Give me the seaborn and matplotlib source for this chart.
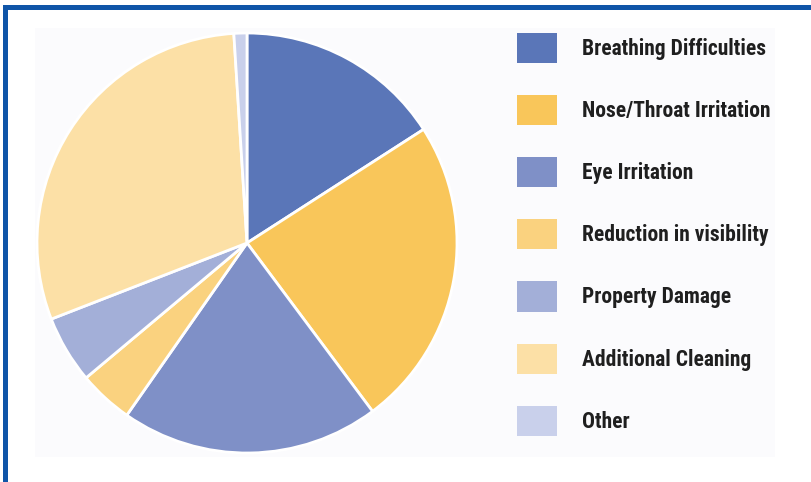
import matplotlib
matplotlib.use("Agg")
import matplotlib.pyplot as plt
import seaborn as sns
from matplotlib.patches import Rectangle

# данные круговой диаграммы
categories = ["Breathing Difficulties", "Nose/Throat Irritation", "Eye Irritation",
              "Reduction in visibility", "Property Damage", "Additional Cleaning", "Other"]
values = [15.9, 23.9, 19.9, 4.2, 5.2, 29.9, 1.0]
colors = ["#5a76b8", "#f9c65a", "#7f90c7", "#fad27f", "#a3afd8", "#fce0a6", "#c9d0eb"]

sns.set_style("white")
plt.rcParams['font.family'] = ['Roboto Condensed', 'DejaVu Sans']

W, H = 812, 482
fig = plt.figure(figsize=(W / 100, H / 100), dpi=100)

# светлая подложка и синяя рамка
fig.add_artist(Rectangle((35 / W, 1 - 457 / H), 740 / W, 429 / H, transform=fig.transFigure,
                         facecolor="#fbfbfd", edgecolor="none", zorder=0))
fig.add_artist(Rectangle((3 / W, 1 - 10 / H), 1 - 3 / W, 5 / H, transform=fig.transFigure,
                         facecolor="#0f55a8", edgecolor="none", zorder=5))
fig.add_artist(Rectangle((3 / W, 0), 5 / W, 1 - 5 / H, transform=fig.transFigure,
                         facecolor="#0f55a8", edgecolor="none", zorder=5))

cx, cy, r = 247, 243, 210
ax = fig.add_axes([(cx - r) / W, (H - cy - r) / H, 2 * r / W, 2 * r / H])
ax.patch.set_alpha(0)

wedges, _ = ax.pie(values, colors=sns.color_palette(colors), startangle=90, counterclock=False,
                   wedgeprops={'lw': 2, 'edgecolor': 'white'})
ax.set_xlim(-1, 1)
ax.set_ylim(-1, 1)
ax.set_aspect("equal")

fs = 15.5
leg = fig.legend(wedges, categories, loc="upper left", bbox_to_anchor=(517 / W, 1 - 33 / H),
                 frameon=False, prop={'weight': 'bold', 'size': fs, 'stretch': 'condensed'},
                 handlelength=1.86, handleheight=1.77, handletextpad=1.16,
                 labelspacing=1.49, borderpad=0, borderaxespad=0)
for h in leg.legend_handles:
    h.set_edgecolor("none")
for t in leg.get_texts():
    t.set_color("#1f1f1f")

fig.savefig("out.png", dpi=100)
